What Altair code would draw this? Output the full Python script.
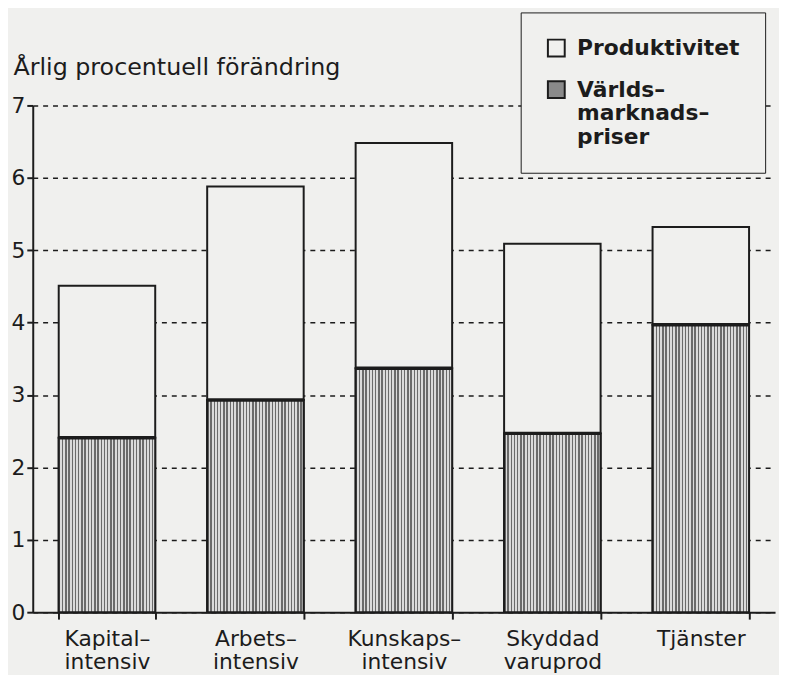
import altair as alt
import pandas as pd

# ---- data ----
categories = ["Kapital–\nintensiv", "Arbets–\nintensiv", "Kunskaps–\nintensiv",
              "Skyddad\nvaruprod", "Tjänster"]
world_prices = [2.41, 2.93, 3.37, 2.47, 3.97]      # Världsmarknadspriser (bottom, striped)
productivity = [2.10, 2.95, 3.11, 2.62, 1.35]      # Produktivitet (top, white)
series = ["Produktivitet", "Världs–\nmarknads–\npriser"]
y_ticks = [0, 1, 2, 3, 4, 5, 6, 7]
y_title = "Årlig procentuell förändring"

BG = "#f0f0ee"
INK = "#1c1c1c"
FONT = "DejaVu Sans"

rows = []
for c, w, p in zip(categories, world_prices, productivity):
    rows.append({"cat": c, "series": series[1], "value": w, "ord": 0})
    rows.append({"cat": c, "series": series[0], "value": p, "ord": 1})
df = pd.DataFrame(rows)

# vertical stripe pattern as a hard-stop linear gradient
stops = []
n = 30
for i in range(n):
    a, b, c = i / n, (i + 0.45) / n, (i + 1) / n
    stops += [{"offset": a, "color": "#6a6a6a"}, {"offset": b, "color": "#6a6a6a"},
              {"offset": b, "color": "#dadada"}, {"offset": c, "color": "#dadada"}]
stripe = {"gradient": "linear", "x1": 0, "x2": 1, "y1": 0, "y2": 0, "stops": stops}

x = alt.X("cat:N", sort=categories,
          scale=alt.Scale(paddingInner=0.35, paddingOuter=0.175),
          axis=alt.Axis(title=None, labelAngle=0, labelExpr="split(datum.label, '\\n')",
                        tickBand="extent", tickSize=7, tickWidth=2, tickColor=INK,
                        domainColor=INK, domainWidth=2, labelFont=FONT, labelFontSize=22,
                        labelColor=INK, labelPadding=10, labelBaseline="top",
                        labelLineHeight=23, grid=False))
y = alt.Y("value:Q", stack="zero",
          scale=alt.Scale(domain=[0, 7], nice=False),
          axis=alt.Axis(values=y_ticks, format="d", title=y_title, titleAngle=0,
                        titleAlign="left", titleBaseline="alphabetic", titleX=-20,
                        titleY=-31, titleFont=FONT, titleFontSize=24,
                        titleFontWeight="normal", titleColor=INK, labelFont=FONT,
                        labelFontSize=22, labelColor=INK, labelPadding=2, tickSize=6,
                        tickWidth=2, tickColor=INK, domainColor=INK, domainWidth=2,
                        grid=True, gridColor=INK, gridDash=[5, 5], gridWidth=1.6,
                        gridOpacity=1))

base = alt.Chart(df)

bars = base.mark_bar(stroke=INK, strokeWidth=2, opacity=1).encode(
    x=x, y=y,
    color=alt.Color("series:N",
                    scale=alt.Scale(domain=series, range=[BG, "#8a8a8a"]),
                    legend=alt.Legend(title=None, orient="none", legendX=493, legendY=-94,
                                      direction="vertical", symbolType="square",
                                      symbolSize=289, symbolStrokeColor=INK,
                                      symbolStrokeWidth=2, labelFont=FONT,
                                      labelFontSize=22, labelFontWeight="bold",
                                      labelColor=INK, labelExpr="split(datum.label, '\\n')",
                                      labelLimit=0, labelOffset=10,
                                      rowPadding=16, padding=25, strokeColor=INK,
                                      fillColor=BG)),
    order=alt.Order("ord:Q"),
)

stripes = base.transform_filter(alt.datum.ord == 0).mark_bar(
    fill=stripe, stroke=INK, strokeWidth=2).encode(
    x=x, y=alt.Y("value:Q", stack=None))

edge = base.transform_filter(alt.datum.ord == 0).mark_tick(
    color=INK, thickness=3.5, size=97, opacity=1).encode(
    x=x, y=alt.Y("value:Q", stack=None))

chart = alt.layer(bars, stripes, edge).properties(
    width=750, height=512,
    padding={"left": 25, "top": 95, "right": 4, "bottom": 60},
    autosize="none",
    background=BG,
).configure_view(stroke=None)

chart.save("out.html", embed_options={"renderer": "svg", "actions": False})
